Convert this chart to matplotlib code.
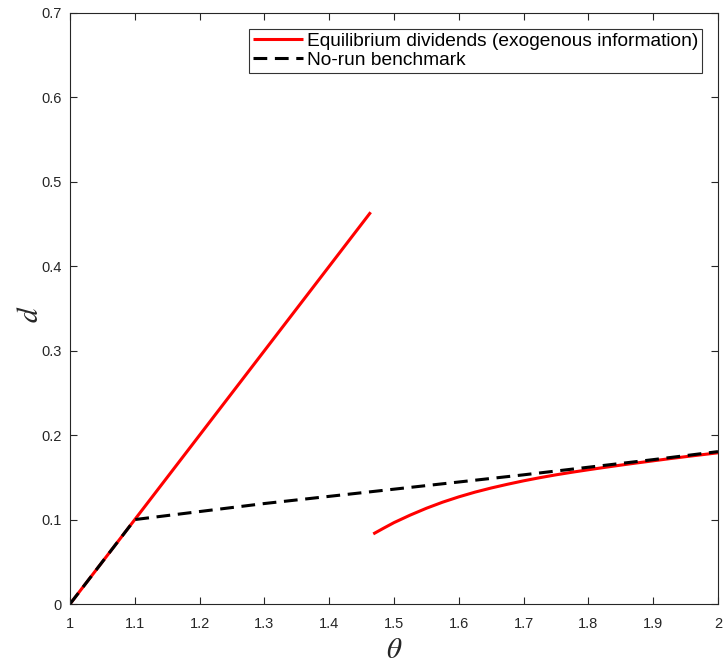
import matplotlib
matplotlib.use("Agg")
import matplotlib.pyplot as plt
import numpy as np

# Data
theta_run_low = [1.0, 1.1, 1.2, 1.3, 1.4, 1.464]
d_run_low = [0.0, 0.1, 0.2, 0.3, 0.4, 0.464]

theta_run_high = [1.468, 1.484, 1.500, 1.525, 1.550, 1.575, 1.600, 1.625, 1.650, 1.675,
                  1.700, 1.725, 1.750, 1.775, 1.800, 1.825, 1.850, 1.875, 1.900, 1.925,
                  1.950, 1.975, 2.000]
d_run_high = [0.0830, 0.0898, 0.0964, 0.1053, 0.1134, 0.1206, 0.1269, 0.1325, 0.1374, 0.1418,
              0.1459, 0.1496, 0.1530, 0.1561, 0.1590, 0.1618, 0.1645, 0.1671, 0.1696, 0.1721,
              0.1745, 0.1768, 0.1791]

theta_bench = [1.0, 1.1, 1.3, 1.5, 1.7, 1.9, 2.0]
d_bench = [0.0, 0.100, 0.119, 0.136, 0.153, 0.171, 0.1805]

xticks = [1, 1.1, 1.2, 1.3, 1.4, 1.5, 1.6, 1.7, 1.8, 1.9, 2]
xticklabels = ["1", "1.1", "1.2", "1.3", "1.4", "1.5", "1.6", "1.7", "1.8", "1.9", "2"]
yticks = [0, 0.1, 0.2, 0.3, 0.4, 0.5, 0.6, 0.7]
yticklabels = ["0", "0.1", "0.2", "0.3", "0.4", "0.5", "0.6", "0.7"]

plt.rcParams['font.family'] = ['Liberation Sans', 'DejaVu Sans']
plt.rcParams['mathtext.fontset'] = 'stix'

fig = plt.figure(figsize=(7.23, 6.66), dpi=100)
ax = fig.add_axes([70/723, 1-604/666, (718-70)/723, (604-13)/666])

axcol = (0.15, 0.15, 0.15)
red = (1.0, 0.0, 0.0)
l1, = ax.plot(theta_run_low, d_run_low, color=red, lw=2.2, solid_capstyle='butt',
              label='Equilibrium dividends (exogenous information)')
ax.plot(theta_run_high, d_run_high, color=red, lw=2.2, solid_capstyle='butt',
        solid_joinstyle='round')
l2, = ax.plot(theta_bench, d_bench, color='black', lw=2.2, dashes=(4.5, 2.5),
              label='No-run benchmark')

ax.set_xlim(1, 2)
ax.set_ylim(0, 0.7)
ax.set_xticks(xticks)
ax.set_xticklabels(xticklabels)
ax.set_yticks(yticks)
ax.set_yticklabels(yticklabels)
ax.tick_params(direction='in', length=5, width=0.8, colors=axcol, labelsize=10.5,
               top=True, right=True, labeltop=False, labelright=False)
ax.tick_params(axis='x', pad=9)
ax.tick_params(axis='y', pad=6)
for s in ax.spines.values():
    s.set_color(axcol)
    s.set_linewidth(0.8)

ax.set_xlabel(r'$\theta$', fontsize=21, color=axcol, labelpad=4)
ax.set_ylabel(r'$d$', fontsize=21, color=axcol)
ax.yaxis.set_label_coords(-0.04, 0.49)

leg = ax.legend(handles=[l1, l2], loc='upper right', fontsize=13.8,
                frameon=True, fancybox=False, edgecolor='black',
                borderaxespad=0.83, handlelength=2.6, handletextpad=0.2,
                borderpad=0.2, labelspacing=0.08)
leg.get_frame().set_linewidth(0.8)

fig.savefig('out.png', dpi=100)
